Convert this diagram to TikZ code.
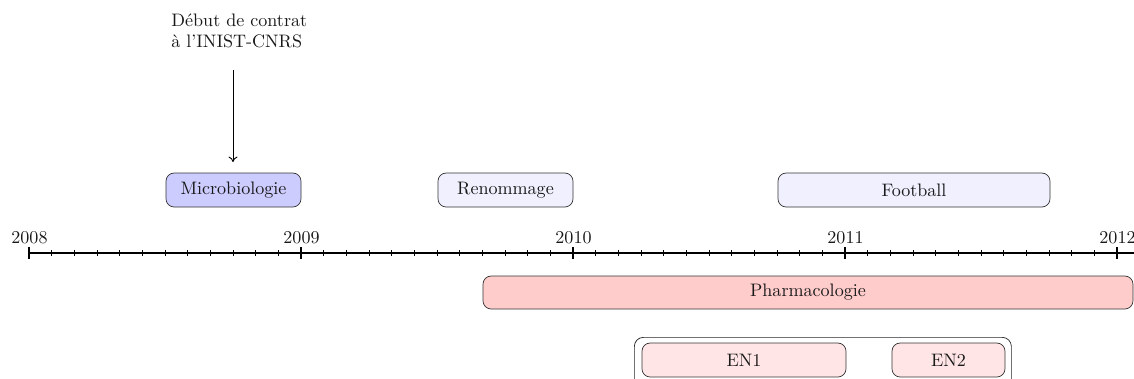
\documentclass[tikz,border=0pt]{standalone}
\usetikzlibrary{arrows.meta}
\def\pxu{0.5537pt}
\begin{document}
\begin{tikzpicture}[x=0.5537pt, y=-0.5537pt,
  evbox/.style={draw=black!80, rounded corners=4.5pt, inner sep=0pt, text=black!90},
  microbox/.style={evbox, fill=blue!20},
  lightbox/.style={evbox, fill=blue!6},
  pharmabox/.style={evbox, fill=red!20},
  enbox/.style={evbox, fill=red!10},
  groupbox/.style={draw=black!85, rounded corners=5pt, inner sep=0pt},
  yearlabel/.style={text=black!90},
  majortick/.style={line width=1.3pt},
  minortick/.style={line width=0.4pt},
  axisline/.style={line width=0.6pt}]
\useasboundingbox (0,0) rectangle (1134,378);
\clip (0,0) rectangle (1134,378);

% axis
\coordinate (axstart) at (29,253);
\coordinate (axend) at (1145,253);
\draw[axisline] (axstart) -- (axend);
\foreach \m in {1,...,50} {
  \draw[minortick] ({29+272/12*\m},250) -- ({29+272/12*\m},256);
}
\foreach \k/\yr in {0/2008,1/2009,2/2010,3/2011,4/2012} {
  \draw[majortick] ({29+272*\k},247) -- ({29+272*\k},259);
  \node[yearlabel] (yr\yr) at ({29.5+272*\k},238) {\yr};
}

% events above
\node[microbox, minimum width=135*\pxu, minimum height=34*\pxu] (micro) at (233.5,190) {Microbiologie};
\node[lightbox, minimum width=135*\pxu, minimum height=34*\pxu] (renom) at (505.5,190) {Renommage};
\node[lightbox, minimum width=272*\pxu, minimum height=34*\pxu] (foot) at (914,190) {Football};

% annotation
\node[anchor=west, align=left, inner sep=0pt, text=black!90] (debut) at (171,31) {D\'ebut de contrat\\\`a l'INIST-CNRS};
\coordinate (arrstart) at (233,70);
\coordinate (arrend) at (233,162);
\draw[-{To[length=3pt,width=5pt]}, line width=0.5pt] (arrstart) -- (arrend);

% events below
\node[pharmabox, minimum width=650*\pxu, minimum height=33*\pxu] (pharma) at (808,292.5) {Pharmacologie};
\node[groupbox, minimum width=377*\pxu, minimum height=60*\pxu, anchor=north west] (group) at (634,337) {};
\node[enbox, minimum width=204*\pxu, minimum height=34*\pxu] (en1) at (744,360) {EN1};
\node[enbox, minimum width=113*\pxu, minimum height=34*\pxu] (en2) at (948.5,360) {EN2};
\end{tikzpicture}
\end{document}
